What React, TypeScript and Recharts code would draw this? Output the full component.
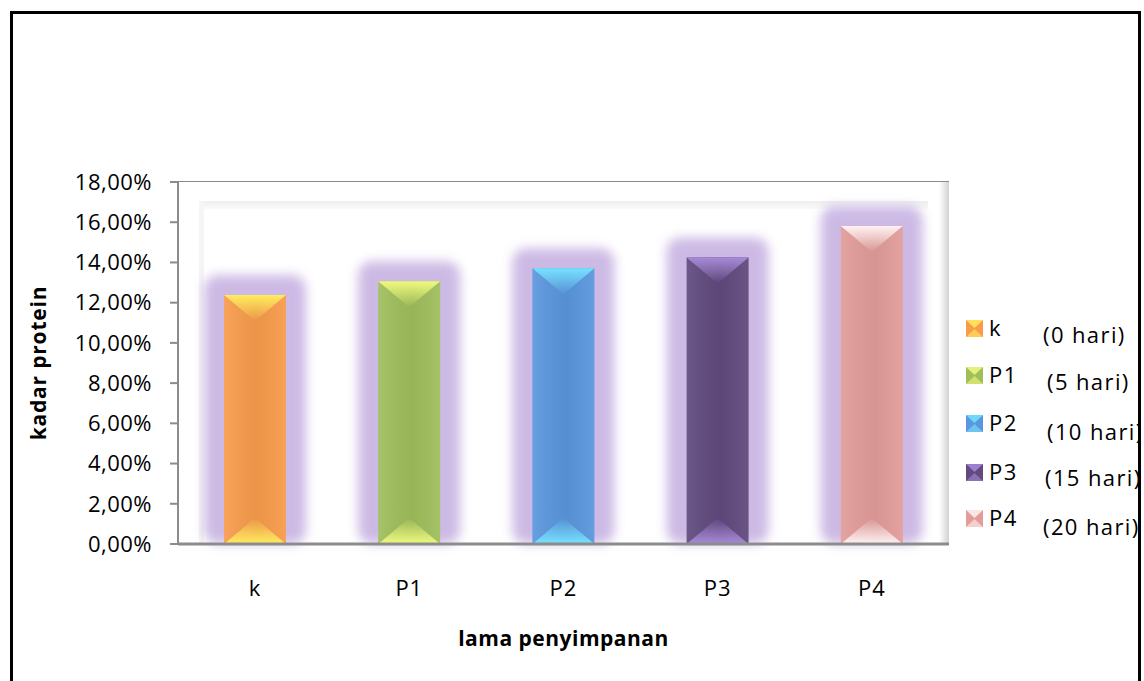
import React from 'react';
import { BarChart, Bar, XAxis, YAxis, CartesianGrid, Cell, Legend, ReferenceArea } from 'recharts';

// ---- data ----
const categories = ['k', 'P1', 'P2', 'P3', 'P4'];
const proteinValues = [12.38, 13.06, 13.71, 14.25, 15.81]; // kadar protein (%)
const storageNotes = ['(0 hari)', '(5 hari)', '(10 hari)', '(15 hari)', '(20 hari)'];
const yTicks = [0, 2, 4, 6, 8, 10, 12, 14, 16, 18];

const baseColors = ['#f89c4c', '#a0be5c', '#5a97de', '#604a7e', '#e29c9a'];
const capColors = ['#ffec5e', '#eefa7c', '#76e2ff', '#a88ad9', '#fff2f2'];
const GLOW = '#c8b3e2';

const data = categories.map((name, i) => ({ name, value: proteinValues[i] }));

const FONT = '"Open Sans", "Noto Sans", sans-serif';

const fmt = (v: number) => v.toFixed(2).replace('.', ',') + '%';

const BevelBar = (props: any) => {
  const { x, y, width, height, index } = props;
  if (width == null || height == null || height <= 0) return null;
  const base = baseColors[index];
  const cap = capColors[index];
  const d = Math.min(26, height / 2);
  const gid = `g${index}`;
  return (
    <g>
      <defs>
        <filter id={`blur${index}`} x="-50%" y="-50%" width="200%" height="200%">
          <feGaussianBlur stdDeviation="5.5" />
        </filter>
        <linearGradient id={`${gid}top`} x1="0" y1="0" x2="0" y2="1">
          <stop offset="0%" stopColor={cap} stopOpacity={1} />
          <stop offset="100%" stopColor={cap} stopOpacity={0} />
        </linearGradient>
        <linearGradient id={`${gid}bot`} x1="0" y1="1" x2="0" y2="0">
          <stop offset="0%" stopColor={cap} stopOpacity={1} />
          <stop offset="100%" stopColor={cap} stopOpacity={0} />
        </linearGradient>
        <linearGradient id={`${gid}shade`} x1="0" y1="0" x2="1" y2="0">
          <stop offset="0%" stopColor="#ffffff" stopOpacity={0.08} />
          <stop offset="55%" stopColor="#000000" stopOpacity={0.05} />
          <stop offset="100%" stopColor="#ffffff" stopOpacity={0.06} />
        </linearGradient>
      </defs>
      <rect
        x={x - 20}
        y={y - 20}
        width={width + 40}
        height={height + 20}
        rx={14}
        fill={GLOW}
        opacity={0.9}
        filter={`url(#blur${index})`}
      />
      <rect x={x} y={y} width={width} height={height} fill={base} />
      <rect x={x} y={y} width={width} height={height} fill={`url(#${gid}shade)`} />
      <polygon
        points={`${x},${y} ${x + width},${y} ${x + width / 2},${y + d}`}
        fill={`url(#${gid}top)`}
      />
      <polygon
        points={`${x},${y + height} ${x + width},${y + height} ${x + width / 2},${y + height - d}`}
        fill={`url(#${gid}bot)`}
      />
    </g>
  );
};

const WallShape = (props: any) => {
  const { x, y, width, height } = props;
  return (
    <g>
      <defs>
        <linearGradient id="rightWall" x1="0" y1="0" x2="1" y2="0">
          <stop offset="0%" stopColor="#ffffff" />
          <stop offset="100%" stopColor="#d2d2d2" />
        </linearGradient>
        <linearGradient id="topBand" x1="0" y1="0" x2="0" y2="1">
          <stop offset="0%" stopColor="#eeeeee" />
          <stop offset="100%" stopColor="#fafafa" />
        </linearGradient>
      </defs>
      <rect x={x} y={y} width={width} height={height} fill="#ffffff" />
      <rect x={x + 21} y={y + 19} width={width - 42} height={8} fill="url(#topBand)" />
      <rect x={x + 21} y={y + 19} width={5} height={height - 19} fill="#f5f5f5" />
      <rect x={x + width - 10} y={y} width={10} height={height} fill="url(#rightWall)" />
    </g>
  );
};

const LegendContent = () => {
  const rowY = [328, 375, 423, 472, 518];
  const noteX = [1043, 1047, 1047, 1045, 1043];
  const noteDy = [7, 7, 9, 6, 9];
  return (
    <div
      style={{
        position: 'relative',
        width: 1144,
        height: 681,
        fontFamily: FONT,
        fontSize: 22,
        letterSpacing: 1.4,
        color: '#000',
      }}
    >
      {categories.map((c, i) => (
        <React.Fragment key={c}>
          <svg width={17} height={17} style={{ position: 'absolute', left: 966, top: rowY[i] - 8 }}>
            <rect x={0} y={0} width={17} height={17} fill={baseColors[i]} />
            <polygon points="0,0 17,0 8.5,8" fill={capColors[i]} opacity={0.85} />
            <polygon points="0,17 17,17 8.5,9" fill={capColors[i]} opacity={0.6} />
          </svg>
          <span
            style={{ position: 'absolute', left: 989, top: rowY[i] - 16, lineHeight: '30px', whiteSpace: 'nowrap' }}
          >
            {c}
          </span>
          <span
            style={{
              position: 'absolute',
              left: noteX[i],
              top: rowY[i] + noteDy[i] - 16,
              lineHeight: '30px',
              whiteSpace: 'nowrap',
            }}
          >
            {storageNotes[i]}
          </span>
        </React.Fragment>
      ))}
    </div>
  );
};

export default function App() {
  return (
    <div
      style={{
        position: 'absolute',
        left: 0,
        top: 0,
        width: 1144,
        height: 681,
        background: '#ffffff',
        overflow: 'hidden',
        fontFamily: FONT,
      }}
    >
      <BarChart
        width={1144}
        height={681}
        data={data}
        margin={{ top: 182, right: 195, bottom: 77, left: 78 }}
        barCategoryGap={0}
      >
        <ReferenceArea y1={0} y2={18} shape={<WallShape />} ifOverflow="visible" />
        <CartesianGrid vertical={false} stroke="#8a8a8a" strokeWidth={2} />
        <XAxis
          dataKey="name"
          tickLine={false}
          tickSize={0}
          tickMargin={36}
          height={60}
          axisLine={{ stroke: '#8c8c8c', strokeWidth: 3 }}
          tick={{ fill: '#000', fontSize: 22, fontFamily: FONT, letterSpacing: 1 }}
          label={{
            content: (p: any) => {
              const vb = p.viewBox || {};
              return (
                <text
                  x={vb.x + vb.width / 2}
                  y={646}
                  textAnchor="middle"
                  fontFamily={FONT}
                  fontSize={21}
                  letterSpacing={0.5}
                  fontWeight="bold"
                  fill="#000"
                >
                  lama penyimpanan
                </text>
              );
            },
          }}
        />
        <YAxis
          domain={[0, 18]}
          ticks={yTicks}
          interval={0}
          width={100}
          tickFormatter={fmt}
          tickSize={8}
          tickMargin={18}
          tickLine={{ stroke: '#8c8c8c', strokeWidth: 2 }}
          axisLine={{ stroke: '#8c8c8c', strokeWidth: 2 }}
          tick={{ fill: '#000', fontSize: 22, fontFamily: FONT, letterSpacing: 0.5 }}
          label={{
            content: () => (
              <text
                x={38}
                y={363}
                transform="rotate(-90, 38, 363)"
                textAnchor="middle"
                dominantBaseline="central"
                fontFamily={FONT}
                fontSize={21}
                letterSpacing={0.8}
                fontWeight="bold"
                fill="#000"
              >
                kadar protein
              </text>
            ),
          }}
        />
        <Bar dataKey="value" barSize={62} isAnimationActive={false} shape={<BevelBar />}>
          {data.map((d, i) => (
            <Cell key={d.name} fill={baseColors[i]} />
          ))}
        </Bar>
        <Legend
          layout="horizontal"
          verticalAlign="middle"
          align="center"
          content={<LegendContent />}
          wrapperStyle={{ left: 0, top: 0, width: 1144, height: 681, pointerEvents: 'none' }}
        />
      </BarChart>
      <div
        style={{
          position: 'absolute',
          left: 10,
          top: 11,
          width: 1131,
          height: 700,
          border: '3px solid #000',
          boxSizing: 'border-box',
          pointerEvents: 'none',
        }}
      />
      <div style={{ position: 'absolute', left: 1141, top: 0, width: 10, height: 681, background: '#fff' }} />
    </div>
  );
}
